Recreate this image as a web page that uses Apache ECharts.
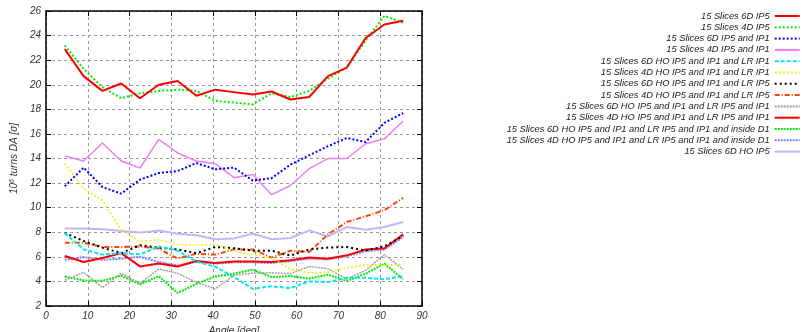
<!DOCTYPE html>
<html>
<head>
<meta charset="utf-8">
<script src="https://cdn.jsdelivr.net/npm/echarts@6/dist/echarts.min.js"></script>
<style>html,body{margin:0;padding:0;background:#fff}#c{width:802px;height:332px}</style>
</head>
<body>
<div id="c"></div>
<script>
const angles = [4.5, 9, 13.5, 18, 22.5, 27, 31.5, 36, 40.5, 45, 49.5, 54, 58.5, 63, 67.5, 72, 76.5, 81, 85.5];
const xTicks = [0, 10, 20, 30, 40, 50, 60, 70, 80, 90];
const yTicks = [2, 4, 6, 8, 10, 12, 14, 16, 18, 20, 22, 24, 26];

const names = [
  "15 Slices 6D IP5",
  "15 Slices 4D IP5",
  "15 Slices 6D IP5 and IP1",
  "15 Slices 4D IP5 and IP1",
  "15 Slices 6D HO IP5 and IP1 and LR IP1",
  "15 Slices 4D HO IP5 and IP1 and LR IP1",
  "15 Slices 6D HO IP5 and IP1 and LR IP5",
  "15 Slices 4D HO IP5 and IP1 and LR IP5",
  "15 Slices 6D HO IP5 and IP1 and LR IP5 and IP1",
  "15 Slices 4D HO IP5 and IP1 and LR IP5 and IP1",
  "15 Slices 6D HO IP5 and IP1 and LR IP5 and IP1 and inside D1",
  "15 Slices 4D HO IP5 and IP1 and LR IP5 and IP1 and inside D1",
  "15 Slices 6D HO IP5"
];

const s6dIP5 = [22.9, 20.7, 19.5, 20.1, 18.9, 20.0, 20.3, 19.1, 19.6, 19.4, 19.2, 19.45, 18.8, 19.0, 20.7, 21.4, 23.8, 24.9, 25.2];
const s4dIP5 = [23.2, 21.3, 19.8, 18.9, 19.3, 19.5, 19.6, 19.5, 18.7, 18.55, 18.4, 19.3, 19.0, 19.5, 20.5, 21.4, 23.6, 25.6, 25.05];
const s6dIP5IP1 = [11.74, 13.26, 11.68, 11.14, 12.28, 12.82, 12.98, 13.63, 13.12, 13.26, 12.2, 12.4, 13.5, 14.26, 15.0, 15.67, 15.34, 16.9, 17.7];
const s4dIP5IP1 = [14.2, 13.8, 15.26, 13.8, 13.23, 15.56, 14.45, 13.8, 13.58, 12.44, 12.7, 11.06, 11.8, 13.17, 13.99, 14.0, 15.2, 15.6, 17.05];
const s6dHoLrIP1 = [7.94, 6.6, 6.18, 6.3, 6.2, 6.85, 6.5, 5.6, 5.2, 4.35, 3.4, 3.6, 3.46, 4.0, 3.95, 4.3, 4.3, 4.17, 4.44];
const s4dHoLrIP1 = [13.6, 11.55, 10.6, 8.2, 7.26, 7.4, 7.0, 6.94, 7.0, 6.45, 6.2, 5.9, 5.0, 4.7, 4.75, 5.1, 5.35, 5.35, 5.35];
const s6dHoLrIP5 = [7.94, 7.3, 6.75, 6.3, 6.94, 6.75, 6.6, 6.3, 6.8, 6.7, 6.5, 6.5, 6.1, 6.6, 6.75, 6.8, 6.5, 6.85, 7.7];
const s4dHoLrIP5 = [7.15, 7.15, 6.8, 6.8, 6.85, 6.67, 5.85, 6.26, 6.18, 6.6, 6.6, 5.94, 6.5, 6.4, 7.83, 8.83, 9.3, 9.8, 10.8];
const s6dHoLrBoth = [4.1, 4.74, 3.5, 4.66, 3.85, 5.0, 4.66, 3.93, 3.4, 4.5, 4.68, 4.7, 4.63, 5.22, 5.03, 4.2, 4.9, 6.18, 4.98];
const s4dHoLrBoth = [6.07, 5.58, 5.9, 6.3, 5.22, 5.45, 5.22, 5.66, 5.5, 5.63, 5.63, 5.58, 5.72, 5.94, 5.85, 6.12, 6.6, 6.7, 7.83];
const s6dHoD1 = [4.4, 4.08, 4.05, 4.47, 3.76, 4.44, 3.06, 3.8, 4.4, 4.63, 4.96, 4.35, 4.44, 4.23, 4.55, 4.03, 4.63, 5.45, 4.17];
const s4dHoD1 = [5.76, 5.98, 5.76, 5.85, 6.0, 5.58, 5.3, 5.6, 5.45, 5.55, 5.55, 5.5, 5.65, 5.85, 5.8, 6.05, 6.45, 6.6, 7.6];
const s6dHoIP5 = [8.3, 8.3, 8.25, 8.1, 7.97, 8.15, 7.88, 7.76, 7.43, 7.5, 7.88, 7.43, 7.53, 8.15, 7.66, 8.42, 8.2, 8.42, 8.83];

const seriesValues = [s6dIP5, s4dIP5, s6dIP5IP1, s4dIP5IP1, s6dHoLrIP1, s4dHoLrIP1, s6dHoLrIP5, s4dHoLrIP5, s6dHoLrBoth, s4dHoLrBoth, s6dHoD1, s4dHoD1, s6dHoIP5];

const styles = [
  {color: '#ff0000', width: 2, type: 'solid'},
  {color: '#00ee00', width: 2, type: [2, 2]},
  {color: '#0000ff', width: 2, type: [2, 2]},
  {color: '#f080f0', width: 1.5, type: 'solid'},
  {color: '#00e8f0', width: 2, type: [4, 2]},
  {color: '#f0f000', width: 1.5, type: [2, 2]},
  {color: '#000000', width: 2, type: [2, 3]},
  {color: '#ff4500', width: 2, type: [5, 2, 1, 2]},
  {color: '#a0a0a0', width: 1.5, type: [2, 1]},
  {color: '#ff0000', width: 2, type: 'solid'},
  {color: '#00ee00', width: 2, type: [2, 1]},
  {color: '#8080ff', width: 2, type: [2, 1]},
  {color: '#c4b4fa', width: 2, type: 'solid'}
];

const FONT = 'Liberation Sans, Arial, sans-serif';
const series = names.map((n, i) => ({
  name: n,
  type: 'line',
  symbol: 'none',
  xAxisIndex: 0, yAxisIndex: 0,
  data: angles.map((a, j) => [a, seriesValues[i][j]]),
  lineStyle: {color: styles[i].color, width: styles[i].width, type: styles[i].type},
  itemStyle: {color: styles[i].color},
  z: 20 - i,
  animation: false
}));

const chart = echarts.init(document.getElementById('c'), null, {renderer: 'canvas'});
const axisCommonX = {
  type: 'value', min: 0, max: 90, interval: 10,
  axisLine: {show: true, onZero: false, lineStyle: {color: '#000', width: 1.5}},
  axisTick: {show: true, inside: true, length: 5, lineStyle: {color: '#000', width: 1}}
};
const axisCommonY = {
  type: 'value', min: 2, max: 26, interval: 2,
  axisLine: {show: true, onZero: false, lineStyle: {color: '#000', width: 1.5}},
  axisTick: {show: true, inside: true, length: 5, lineStyle: {color: '#000', width: 1}}
};
chart.setOption({
  animation: false,
  backgroundColor: '#fff',
  grid: {left: 46, right: 380, top: 11, bottom: 26, containLabel: false, outerBoundsMode: 'none'},
  legend: {
    orient: 'vertical', right: 1.3, top: 11.5, align: 'right', padding: 0,
    itemWidth: 25, itemHeight: 8, itemGap: 2.3,
    itemStyle: {opacity: 0, color: 'transparent', borderWidth: 0},
    textStyle: {fontFamily: FONT, fontStyle: 'italic', fontSize: 9.3, color: '#222'},
    data: names
  },
  xAxis: [
    Object.assign({}, axisCommonX, {
      position: 'bottom',
      axisLabel: {show: true, margin: 5, fontFamily: FONT, fontStyle: 'italic', fontSize: 10, color: '#333',
        formatter: v => xTicks.includes(v) ? String(v) : ''},
      splitLine: {show: true, lineStyle: {color: '#999', type: [3, 3], width: 1}},
      name: 'Angle [deg]', nameLocation: 'middle', nameGap: 18,
      nameTextStyle: {fontFamily: FONT, fontStyle: 'italic', fontSize: 10, color: '#333'}
    }),
    Object.assign({}, axisCommonX, {
      position: 'top', axisLabel: {show: false}, splitLine: {show: false}
    })
  ],
  yAxis: [
    Object.assign({}, axisCommonY, {
      position: 'left',
      axisLabel: {show: true, margin: 5, fontFamily: FONT, fontStyle: 'italic', fontSize: 10, color: '#333',
        formatter: v => yTicks.includes(v) ? String(v) : ''},
      splitLine: {show: true, lineStyle: {color: '#999', type: [3, 3], width: 1}},
      name: '{a|10}{s|6}{a| turns DA [σ]}', nameLocation: 'middle', nameGap: 27, nameRotate: 90,
      nameTextStyle: {fontFamily: FONT, fontStyle: 'italic', fontSize: 10, color: '#333',
        rich: {a: {fontFamily: FONT, fontStyle: 'italic', fontSize: 10, color: '#333'},
               s: {fontFamily: FONT, fontStyle: 'italic', fontSize: 7, color: '#333', verticalAlign: 'top', lineHeight: 10}}}
    }),
    Object.assign({}, axisCommonY, {
      position: 'right', axisLabel: {show: false}, splitLine: {show: false}
    })
  ],
  series: series
});
</script>
</body>
</html>
